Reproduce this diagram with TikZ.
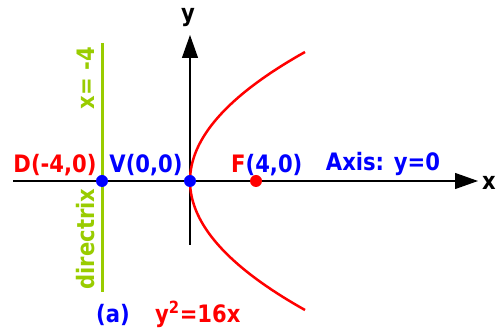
\documentclass[tikz,border=0pt]{standalone}
\usepackage{fontspec}
\setmainfont{DejaVu Sans}
\newfontfamily\lblfont[FakeStretch=0.88]{DejaVu Sans}
\usepackage{tikz}
\usetikzlibrary{positioning,arrows.meta,calc}
\definecolor{red}{HTML}{FF0000}
\definecolor{blue}{HTML}{0000FF}
\definecolor{lime}{HTML}{99CC00}
\tikzset{
  lbl/.style={font=\lblfont\fontsize{24}{27}\selectfont\bfseries, inner sep=0pt},
  pt/.style={circle, inner sep=0pt, minimum size=12pt},
  axis/.style={black, line width=1.2pt, -{Triangle[length=23pt,width=16pt]}}
}
\begin{document}
\begin{tikzpicture}[x=1pt,y=1pt]
        \useasboundingbox (0,0) rectangle (496,329);
        % Axes
        \coordinate (xstart) at (13,148);
        \coordinate (xend) at (478,148);
        \coordinate (ystart) at (190,84);
        \coordinate (yend) at (190,294);
        \draw[axis] (xstart) -- (xend);
        \draw[axis] (ystart) -- (yend);
        \node[lbl] (xlab) at (489,146) {x};
        \node[lbl] (ylab) at (188,311) {y};
        % Directrix
        \coordinate (dtop) at (102,286);
        \coordinate (dbot) at (102,37);
        \draw[lime, line width=3pt] (dtop) -- (dbot);
        \node[lbl, lime, rotate=90] (dirx) at (86,251) {x= -4};
        \node[lbl, lime, rotate=90] (dirname) at (86,90) {directrix};
        % Parabola
        \draw[red, line width=2.5pt]
          plot[domain=-12.9:12.9, samples=80] ({190+0.691*\x*\x},{148+10*\x});
        % Points
        \node[pt, fill=blue] (D) at (102,148) {};
        \node[pt, fill=blue] (V) at (190,148) {};
        \node[pt, fill=red] (F) at (256,148) {};
        \node[lbl, red] (Dlab) at (55,164) {D(-4,0)};
        \node[lbl, blue] (Vlab) at (146,164) {V(0,0)};
        \node[lbl, red, anchor=west] (Flab) at (231,164) {F\textcolor{blue}{(4,0)}};
        \node[lbl, blue] (axlab) at (383,165) {Axis: y=0};
        % Caption
        \node[lbl, blue, anchor=base] (cap) at (113,6) {(a)};
        \node[lbl, red, anchor=base west] (eqn) at (155,6) {y\textsuperscript{2}=16x};
      \end{tikzpicture}
\end{document}
